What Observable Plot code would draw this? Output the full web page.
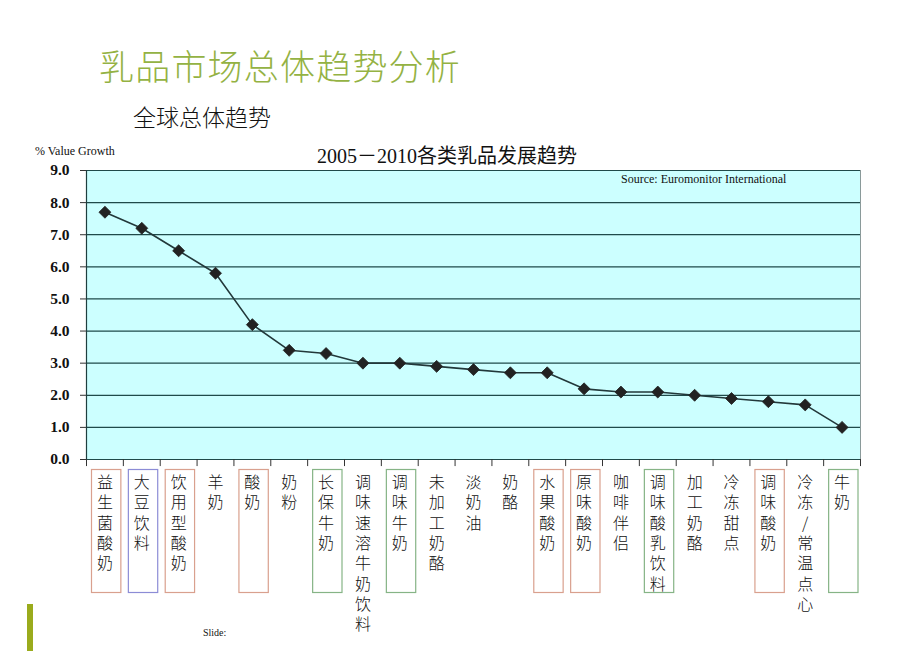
<!DOCTYPE html>
<html><head><meta charset="utf-8">
<script src="https://cdn.jsdelivr.net/npm/d3@7"></script>
<script src="https://cdn.jsdelivr.net/npm/@observablehq/plot@0.6"></script>
<style>
body{margin:0;background:#fff;}
#page{position:relative;width:920px;height:651px;overflow:hidden;background:#fff;}
.abs{position:absolute;white-space:nowrap;}
#title{left:99px;top:39px;font-family:"Noto Sans CJK SC";font-weight:300;font-size:35px;color:#94b243;letter-spacing:1.2px;}
#sub{left:133px;top:99px;font-family:"Noto Sans CJK SC";font-weight:300;font-size:23px;color:#111;}
#ylab{left:35px;top:144px;font-family:"Liberation Serif";font-size:12px;color:#111;}
#ctitle{left:317px;top:140px;font-family:"Liberation Serif","Noto Sans CJK SC";font-size:20px;color:#111;}
#source{left:621px;top:172px;font-family:"Liberation Serif";font-size:12px;color:#111;}
#slide{left:203px;top:627px;font-family:"Liberation Serif";font-size:10px;color:#111;}
#bar{left:27px;top:604px;width:6px;height:47px;background:#9aab1c;}
svg{overflow:visible;}
</style></head>
<body><div id="page">
<div id="main" class="abs" style="left:0;top:0"></div>
<div id="labels" class="abs" style="left:0;top:469px"></div>
<div id="title" class="abs">乳品市场总体趋势分析</div>
<div id="sub" class="abs">全球总体趋势</div>
<div id="ylab" class="abs">% Value Growth</div>
<div id="ctitle" class="abs">2005－2010各类乳品发展趋势</div>
<div id="source" class="abs">Source: Euromonitor International</div>
<div id="slide" class="abs">Slide:</div>
<div id="bar" class="abs"></div>
</div>
<script>
const categories = ["益生菌酸奶","大豆饮料","饮用型酸奶","羊奶","酸奶","奶粉","长保牛奶","调味速溶牛奶饮料","调味牛奶","未加工奶酪","淡奶油","奶酪","水果酸奶","原味酸奶","咖啡伴侣","调味酸乳饮料","加工奶酪","冷冻甜点","调味酸奶","冷冻/常温点心","牛奶"];
const growth = [7.7,7.2,6.5,5.8,4.2,3.4,3.3,3.0,3.0,2.9,2.8,2.7,2.7,2.2,2.1,2.1,2.0,1.9,1.8,1.7,1.0];
const boxGroup = ["red","blue","red","","red","","green","","green","","","","red","red","","green","","","red","","green"];
const yTicks = [0,1,2,3,4,5,6,7,8,9];

const boxColors = {red:"#d9a08e", blue:"#8c8cd6", green:"#86b486"};
const data = categories.map((c,i)=>({cat:c, v:growth[i], box:boxGroup[i]}));

const W = 920, ML = 86, MR = 60;
const bw = (W - ML - MR) / categories.length;

const main = Plot.plot({
  width: W, height: 651,
  marginLeft: ML, marginRight: MR, marginTop: 170, marginBottom: 192,
  style: {background:"transparent", overflow:"visible"},
  x: {type:"band", domain: categories, padding: 0, round: false, axis: null},
  y: {domain:[0,9], axis: null},
  marks: [
    Plot.frame({fill:"#ccffff", stroke:"#8a9a9a"}),
    Plot.ruleY(yTicks, {stroke:"#1f4a4a", strokeWidth:1.2}),
    Plot.ruleX([categories[0]], {dx: -bw/2, stroke:"#1f3f3f", strokeWidth:1.2}),
    Plot.ruleX(categories, {dx: -bw/2, y1: 0, y2: -0.22, stroke:"#333", strokeWidth:1}),
    Plot.ruleX([categories[categories.length-1]], {dx: bw/2, y1: 0, y2: -0.22, stroke:"#333", strokeWidth:1}),
    Plot.axisY({ticks: yTicks, tickFormat: d => d.toFixed(1), tickSize: 6, tickPadding: 11,
      fontFamily:"Liberation Serif", fontWeight:"bold", fontSize:15.5, color:"#111", label:null, stroke:"#333"}),
    Plot.line(data, {x:"cat", y:"v", stroke:"#22383a", strokeWidth:1.6}),
    Plot.dot(data, {x:"cat", y:"v", symbol:"diamond2", r:5.4, fill:"#222", stroke:"#222", strokeWidth:0.8})
  ]
});
document.getElementById("main").append(main);

const labels = Plot.plot({
  width: W, height: 124,
  marginLeft: ML, marginRight: MR, marginTop: 0, marginBottom: 0,
  style: {background:"transparent", overflow:"visible"},
  x: {type:"band", domain: categories, padding: 0, round: false, axis: null},
  marks: [
    Plot.cell(data.filter(d=>d.box), {x:"cat", stroke: d => boxColors[d.box], fill:"none", insetLeft:5.5, insetRight:2, insetTop:0.5, insetBottom:0.5, strokeWidth:1.2}),
    Plot.text(data, {x:"cat", frameAnchor:"top", dy: 4, text: d => Array.from(d.cat).join("\n"),
      lineAnchor:"top", lineHeight: 1.27, fontSize: 16, fontFamily:"Noto Sans CJK SC", fontWeight:300, fill:"#111"})
  ]
});
document.getElementById("labels").append(labels);
</script>
</body></html>
